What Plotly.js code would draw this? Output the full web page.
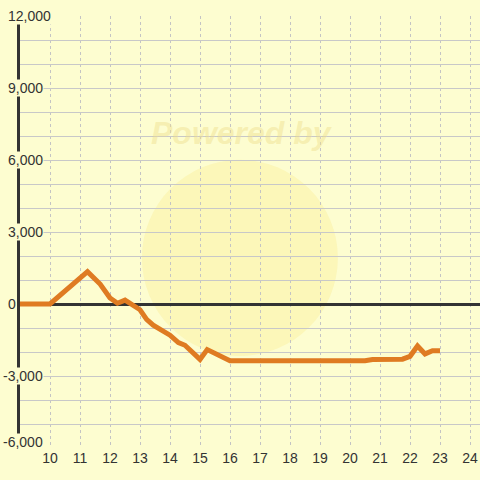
<!DOCTYPE html>
<html>
<head>
<meta charset="utf-8">
<script src="https://cdn.plot.ly/plotly-3.0.1.min.js"></script>
<style>html,body{margin:0;padding:0;background:#fdfdd0;}#chart{width:480px;height:480px;}</style>
</head>
<body>
<div id="chart"></div>
<script>
const hours = [9, 10, 11.25, 11.67, 12.0, 12.25, 12.5, 12.78, 13.0, 13.22, 13.44, 14.0, 14.28, 14.5, 15.0, 15.24, 15.75, 16.0, 20.5, 20.75, 21.75, 22.0, 22.25, 22.5, 22.75, 23.0];
const values = [0, 0, 1350, 830, 250, 30, 160, -80, -240, -640, -880, -1300, -1610, -1720, -2310, -1900, -2220, -2360, -2360, -2310, -2300, -2180, -1750, -2080, -1950, -1950];
const xTicks = [10, 11, 12, 13, 14, 15, 16, 17, 18, 19, 20, 21, 22, 23, 24];
const yGrid = [-6000, -5000, -4000, -3000, -2000, -1000, 0, 1000, 2000, 3000, 4000, 5000, 6000, 7000, 8000, 9000, 10000, 11000, 12000];
const yLabelVals = [12000, 9000, 6000, 3000, 0, -3000, -6000];
const yLabelText = ['12,000', '9,000', '6,000', '3,000', '0', '-3,000', '-6,000'];

const bg = '#fdfdd0';
const annotations = yLabelVals.map((v, i) => ({
  xref: 'paper', yref: 'y', x: -13 / 460, y: v,
  xanchor: 'left', yanchor: 'middle',
  xshift: yLabelText[i].startsWith('-') ? -5 : 0,
  yshift: i === yLabelVals.length - 1 ? 6 : 0,
  text: yLabelText[i], showarrow: false,
  bgcolor: bg, borderpad: 0,
  font: {family: 'Liberation Sans, Arial, sans-serif', size: 14, color: '#333'}
}));
annotations.push({
  xref: 'paper', yref: 'paper', x: 0.482, y: 0.729, xanchor: 'center', yanchor: 'middle',
  text: '<b><i>Powered by</i></b>', showarrow: false,
  font: {family: 'Liberation Sans, Arial, sans-serif', size: 32, color: 'rgba(238,222,140,0.45)'}
});

Plotly.newPlot('chart', [{
  x: hours, y: values, type: 'scatter', mode: 'lines',
  line: {color: '#df7b22', width: 5},
  hoverinfo: 'skip'
}], {
  width: 480, height: 480,
  margin: {l: 20, r: 0, t: 16, b: 32},
  paper_bgcolor: bg, plot_bgcolor: bg,
  showlegend: false,
  xaxis: {
    range: [9, 24.333], tickvals: xTicks, ticktext: xTicks.map(String),
    showgrid: true, gridcolor: '#c4c4c4', gridwidth: 1, griddash: '3px,3px',
    zeroline: false, showline: false, ticks: '',
    tickfont: {family: 'Liberation Sans, Arial, sans-serif', size: 14, color: '#333'}
  },
  yaxis: {
    range: [-6000, 12000], tickvals: yGrid, showticklabels: false,
    showgrid: true, gridcolor: '#c8c8c8', gridwidth: 1,
    zeroline: true, zerolinecolor: '#333', zerolinewidth: 3,
    showline: true, linecolor: '#333', linewidth: 3, ticks: ''
  },
  shapes: [{
    type: 'circle', xref: 'paper', yref: 'paper', layer: 'below',
    x0: 0.265, x1: 0.691, y0: 0.213, y1: 0.667,
    fillcolor: 'rgba(250,238,150,0.4)', line: {width: 0}
  }],
  annotations: annotations
}, {displayModeBar: false, staticPlot: true});
</script>
</body>
</html>
